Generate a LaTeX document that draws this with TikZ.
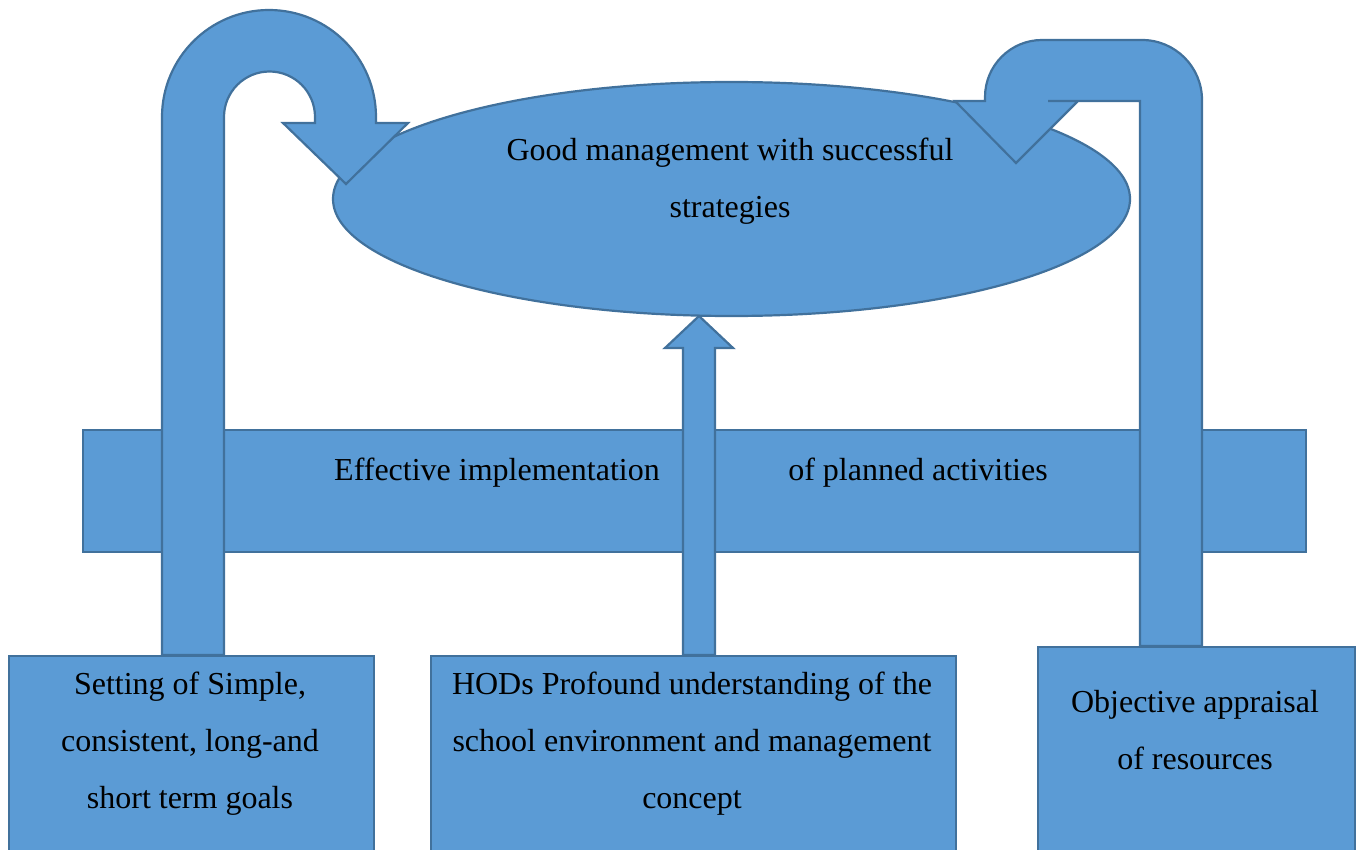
\documentclass[tikz,border=0pt]{standalone}
\usepackage{fontspec}
\setmainfont{Liberation Serif}
\usetikzlibrary{shapes.geometric}
\definecolor{fillblue}{HTML}{5B9BD5}
\definecolor{lineblue}{HTML}{41719C}
\begin{document}
\begin{tikzpicture}[x=0.5pt,y=-0.5pt,
  blockfill/.style={fill=fillblue,draw=lineblue,line width=1.1pt,line join=miter},
  boxnode/.style={blockfill,rectangle,inner sep=0pt,anchor=north west},
  txt/.style={font=\fontsize{16}{28.5}\selectfont,align=center,inner sep=0pt,text=black}]
\useasboundingbox (0,0) rectangle (1364,850);
\clip (0,0) rectangle (1364,850);

% horizontal band behind everything
\node[boxnode,minimum width=611.5pt,minimum height=61pt] (band) at (82,429) {};

% central goal ellipse
\node[blockfill,ellipse,inner sep=0pt,minimum width=398.5pt,minimum height=117pt] (goal) at (731.5,199) {};

% left U-turn block arrow
\path[blockfill] (162,655) -- (162,117)
  arc[start angle=180,end angle=0,radius=53.5pt]
  -- (376,123) -- (408,123) -- (346,184) -- (283,123) -- (315,123) -- (315,117)
  arc[start angle=0,end angle=180,radius=22.75pt]
  -- (224,655) -- cycle;

% right bent block arrow
\path[blockfill] (1140,646) -- (1140,101) -- (1048,101) -- (1078,101) -- (1016,163)
  -- (955,101) -- (985,101) -- (985,97)
  arc[start angle=180,end angle=90,radius=28.5pt]
  -- (1142,40)
  arc[start angle=90,end angle=0,radius=30pt]
  -- (1202,646) -- cycle;

% central upward block arrow
\path[blockfill] (683,655) -- (683,348) -- (665,348) -- (699,316) -- (733,348)
  -- (715,348) -- (715,655) -- cycle;

% the three source boxes
\node[boxnode,minimum width=182.5pt,minimum height=110pt] (goals) at (8,655) {};
\node[boxnode,minimum width=262.5pt,minimum height=110pt] (hods) at (430,655) {};
\node[boxnode,minimum width=158.5pt,minimum height=115pt] (resources) at (1037,646) {};

% texts
\node[txt] (goaltext) at (730,181) {Good management with successful\\strategies};
\node[txt] (bandleft) at (497,473) {Effective implementation};
\node[txt] (bandright) at (918,473) {of planned activities};
\node[txt] (goalstext) at (190,744) {Setting of Simple,\\consistent, long-and\\short term goals};
\node[txt] (hodstext) at (692,744) {HODs Profound understanding of the\\school environment and management\\concept};
\node[txt] (restext) at (1195,730) {Objective appraisal\\of resources};
\end{tikzpicture}
\end{document}
